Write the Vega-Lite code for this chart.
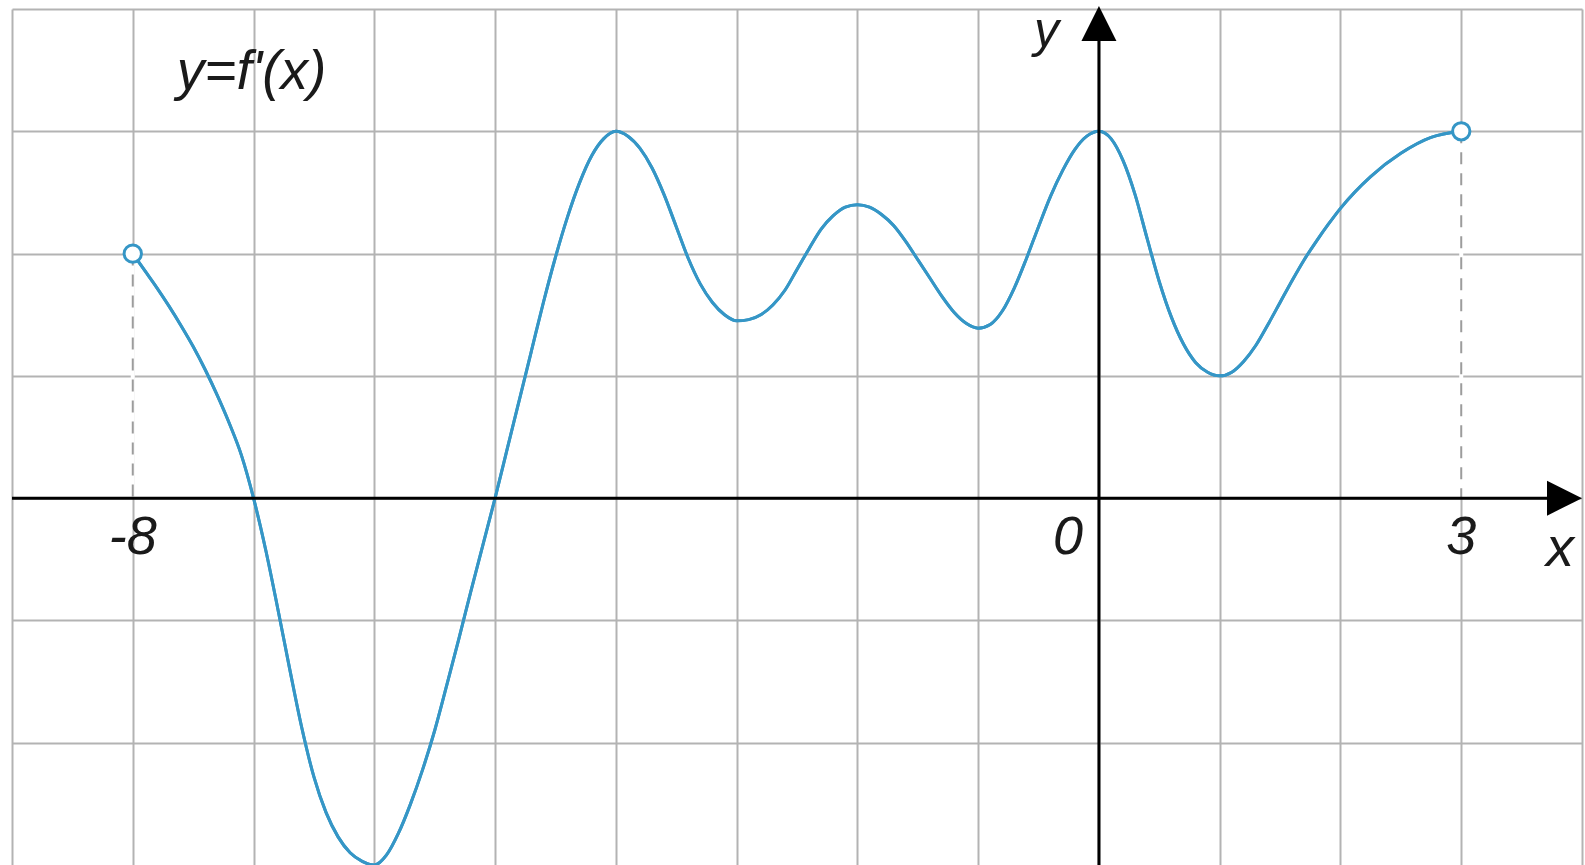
{
  "$schema": "https://vega.github.io/schema/vega-lite/v6.json",
  "width": 1570,
  "height": 856,
  "autosize": {"type": "none"},
  "padding": {"left": 12, "top": 9, "right": 3, "bottom": 0},
  "background": "white",
  "config": {
    "view": {"stroke": null},
    "axis": {
      "grid": true,
      "labels": false,
      "ticks": false,
      "domain": false,
      "title": null,
      "gridColor": "#b3b3b3",
      "gridWidth": 2
    }
  },
  "datasets": {
    "curve": [
      {"x": -8, "y": 2},
      {"x": -7.9, "y": 1.86},
      {"x": -7.8, "y": 1.72},
      {"x": -7.7, "y": 1.57},
      {"x": -7.6, "y": 1.41},
      {"x": -7.5, "y": 1.24},
      {"x": -7.4, "y": 1.05},
      {"x": -7.3, "y": 0.84},
      {"x": -7.2, "y": 0.61},
      {"x": -7.1, "y": 0.35},
      {"x": -7, "y": 0},
      {"x": -6.9, "y": -0.42},
      {"x": -6.8, "y": -0.9},
      {"x": -6.7, "y": -1.4},
      {"x": -6.6, "y": -1.88},
      {"x": -6.5, "y": -2.28},
      {"x": -6.4, "y": -2.57},
      {"x": -6.3, "y": -2.77},
      {"x": -6.2, "y": -2.9},
      {"x": -6.1, "y": -2.97},
      {"x": -6, "y": -3},
      {"x": -5.9, "y": -2.92},
      {"x": -5.8, "y": -2.74},
      {"x": -5.7, "y": -2.5},
      {"x": -5.6, "y": -2.22},
      {"x": -5.5, "y": -1.9},
      {"x": -5.4, "y": -1.53},
      {"x": -5.3, "y": -1.15},
      {"x": -5.2, "y": -0.76},
      {"x": -5.1, "y": -0.38},
      {"x": -5, "y": 0},
      {"x": -4.9, "y": 0.4},
      {"x": -4.8, "y": 0.8},
      {"x": -4.7, "y": 1.2},
      {"x": -4.6, "y": 1.6},
      {"x": -4.5, "y": 1.97},
      {"x": -4.4, "y": 2.3},
      {"x": -4.3, "y": 2.58},
      {"x": -4.2, "y": 2.8},
      {"x": -4.1, "y": 2.94},
      {"x": -4, "y": 3},
      {"x": -3.9, "y": 2.96},
      {"x": -3.8, "y": 2.86},
      {"x": -3.7, "y": 2.7},
      {"x": -3.6, "y": 2.48},
      {"x": -3.5, "y": 2.22},
      {"x": -3.4, "y": 1.96},
      {"x": -3.3, "y": 1.75},
      {"x": -3.2, "y": 1.6},
      {"x": -3.1, "y": 1.5},
      {"x": -3, "y": 1.45},
      {"x": -2.9, "y": 1.46},
      {"x": -2.8, "y": 1.5},
      {"x": -2.7, "y": 1.58},
      {"x": -2.6, "y": 1.7},
      {"x": -2.5, "y": 1.87},
      {"x": -2.4, "y": 2.04},
      {"x": -2.3, "y": 2.2},
      {"x": -2.2, "y": 2.31},
      {"x": -2.1, "y": 2.38},
      {"x": -2, "y": 2.4},
      {"x": -1.9, "y": 2.38},
      {"x": -1.8, "y": 2.32},
      {"x": -1.7, "y": 2.23},
      {"x": -1.6, "y": 2.1},
      {"x": -1.5, "y": 1.95},
      {"x": -1.4, "y": 1.8},
      {"x": -1.3, "y": 1.65},
      {"x": -1.2, "y": 1.52},
      {"x": -1.1, "y": 1.43},
      {"x": -1, "y": 1.39},
      {"x": -0.9, "y": 1.42},
      {"x": -0.8, "y": 1.53},
      {"x": -0.7, "y": 1.72},
      {"x": -0.6, "y": 1.96},
      {"x": -0.5, "y": 2.22},
      {"x": -0.4, "y": 2.47},
      {"x": -0.3, "y": 2.68},
      {"x": -0.2, "y": 2.85},
      {"x": -0.1, "y": 2.96},
      {"x": 0, "y": 3},
      {"x": 0.1, "y": 2.94},
      {"x": 0.2, "y": 2.76},
      {"x": 0.3, "y": 2.48},
      {"x": 0.4, "y": 2.12},
      {"x": 0.5, "y": 1.77},
      {"x": 0.6, "y": 1.48},
      {"x": 0.7, "y": 1.26},
      {"x": 0.8, "y": 1.11},
      {"x": 0.9, "y": 1.03},
      {"x": 1, "y": 1},
      {"x": 1.1, "y": 1.03},
      {"x": 1.2, "y": 1.12},
      {"x": 1.3, "y": 1.25},
      {"x": 1.4, "y": 1.42},
      {"x": 1.5, "y": 1.6},
      {"x": 1.6, "y": 1.78},
      {"x": 1.7, "y": 1.95},
      {"x": 1.8, "y": 2.1},
      {"x": 1.9, "y": 2.24},
      {"x": 2, "y": 2.37},
      {"x": 2.25, "y": 2.63},
      {"x": 2.5, "y": 2.82},
      {"x": 2.75, "y": 2.95},
      {"x": 3, "y": 3}
    ],
    "ends": [
      {"x": -8, "y": 2},
      {"x": 3, "y": 3}
    ],
    "ticks": [
      {"x": -8, "label": "-8"},
      {"x": 3, "label": "3"}
    ],
    "one": [{}]
  },
  "layer": [
    {
      "data": {"name": "curve"},
      "mark": {"type": "line", "interpolate": "monotone", "stroke": "#3596c6", "strokeWidth": 3},
      "encoding": {
        "x": {
          "field": "x",
          "type": "quantitative",
          "scale": {"domain": [-9, 4], "nice": false, "zero": false},
          "axis": {"values": [-9, -8, -7, -6, -5, -4, -3, -2, -1, 0, 1, 2, 3, 4]}
        },
        "y": {
          "field": "y",
          "type": "quantitative",
          "scale": {"domain": [-3, 4], "nice": false, "zero": false},
          "axis": {"values": [-2, -1, 0, 1, 2, 3, 4]}
        }
      }
    },
    {
      "data": {"name": "ends"},
      "mark": {"type": "rule", "color": "white", "strokeWidth": 4},
      "encoding": {
        "x": {"field": "x", "type": "quantitative"},
        "y": {"field": "y", "type": "quantitative"},
        "y2": {"datum": 0}
      }
    },
    {
      "data": {"name": "ends"},
      "mark": {"type": "rule", "color": "#9c9c9c", "strokeWidth": 2, "strokeDash": [12, 9]},
      "encoding": {
        "x": {"field": "x", "type": "quantitative"},
        "y": {"field": "y", "type": "quantitative"},
        "y2": {"datum": 0}
      }
    },
    {
      "data": {"name": "curve"},
      "mark": {"type": "line", "interpolate": "monotone", "stroke": "#3596c6", "strokeWidth": 3},
      "encoding": {
        "x": {"field": "x", "type": "quantitative"},
        "y": {"field": "y", "type": "quantitative"}
      }
    },
    {
      "data": {"name": "one"},
      "mark": {"type": "rule", "color": "black", "strokeWidth": 3},
      "encoding": {
        "x": {"datum": -9, "type": "quantitative"},
        "x2": {"datum": 3.9},
        "y": {"datum": 0, "type": "quantitative"}
      }
    },
    {
      "data": {"name": "one"},
      "mark": {"type": "rule", "color": "black", "strokeWidth": 3},
      "encoding": {
        "x": {"datum": 0, "type": "quantitative"},
        "y": {"datum": -3, "type": "quantitative"},
        "y2": {"datum": 3.85}
      }
    },
    {
      "data": {"name": "one"},
      "mark": {"type": "point", "shape": "M1,0L-1,-1L-1,1Z", "size": 1225, "filled": true, "color": "black", "opacity": 1, "xOffset": -17.5},
      "encoding": {
        "x": {"datum": 4, "type": "quantitative"},
        "y": {"datum": 0, "type": "quantitative"}
      }
    },
    {
      "data": {"name": "one"},
      "mark": {"type": "point", "shape": "M0,-1L1,1L-1,1Z", "size": 1225, "filled": true, "color": "black", "opacity": 1, "yOffset": 14.5},
      "encoding": {
        "x": {"datum": 0, "type": "quantitative"},
        "y": {"datum": 4, "type": "quantitative"}
      }
    },
    {
      "data": {"name": "ends"},
      "mark": {"type": "point", "shape": "circle", "size": 300, "filled": true, "fill": "white", "stroke": "#3596c6", "strokeWidth": 3, "opacity": 1},
      "encoding": {
        "x": {"field": "x", "type": "quantitative"},
        "y": {"field": "y", "type": "quantitative"}
      }
    },
    {
      "data": {"name": "ticks"},
      "mark": {"type": "text", "font": "Liberation Sans", "fontStyle": "italic", "fontSize": 54, "align": "center", "baseline": "alphabetic", "dy": 56, "color": "#1a1a1a"},
      "encoding": {
        "x": {"field": "x", "type": "quantitative"},
        "y": {"datum": 0, "type": "quantitative"},
        "text": {"field": "label"}
      }
    },
    {
      "data": {"name": "one"},
      "mark": {"type": "text", "font": "Liberation Sans", "fontStyle": "italic", "fontSize": 54, "align": "right", "baseline": "alphabetic", "dx": -16, "dy": 56, "color": "#1a1a1a"},
      "encoding": {
        "x": {"datum": 0, "type": "quantitative"},
        "y": {"datum": 0, "type": "quantitative"},
        "text": {"value": "0"}
      }
    },
    {
      "data": {"name": "one"},
      "mark": {"type": "text", "font": "Liberation Sans", "fontStyle": "italic", "fontSize": 56, "align": "right", "baseline": "alphabetic", "dx": -8, "dy": 68, "color": "#1a1a1a"},
      "encoding": {
        "x": {"datum": 4, "type": "quantitative"},
        "y": {"datum": 0, "type": "quantitative"},
        "text": {"value": "x"}
      }
    },
    {
      "data": {"name": "one"},
      "mark": {"type": "text", "font": "Liberation Sans", "fontStyle": "italic", "fontSize": 50, "align": "right", "baseline": "alphabetic", "dx": -40, "dy": 38, "color": "#1a1a1a"},
      "encoding": {
        "x": {"datum": 0, "type": "quantitative"},
        "y": {"datum": 4, "type": "quantitative"},
        "text": {"value": "y"}
      }
    },
    {
      "data": {"name": "one"},
      "mark": {"type": "text", "font": "Liberation Sans", "fontStyle": "italic", "fontSize": 55, "align": "left", "baseline": "alphabetic", "dx": 44, "dy": 80, "color": "#1a1a1a"},
      "encoding": {
        "x": {"datum": -8, "type": "quantitative"},
        "y": {"datum": 4, "type": "quantitative"},
        "text": {"value": "y=f'(x)"}
      }
    }
  ]
}
